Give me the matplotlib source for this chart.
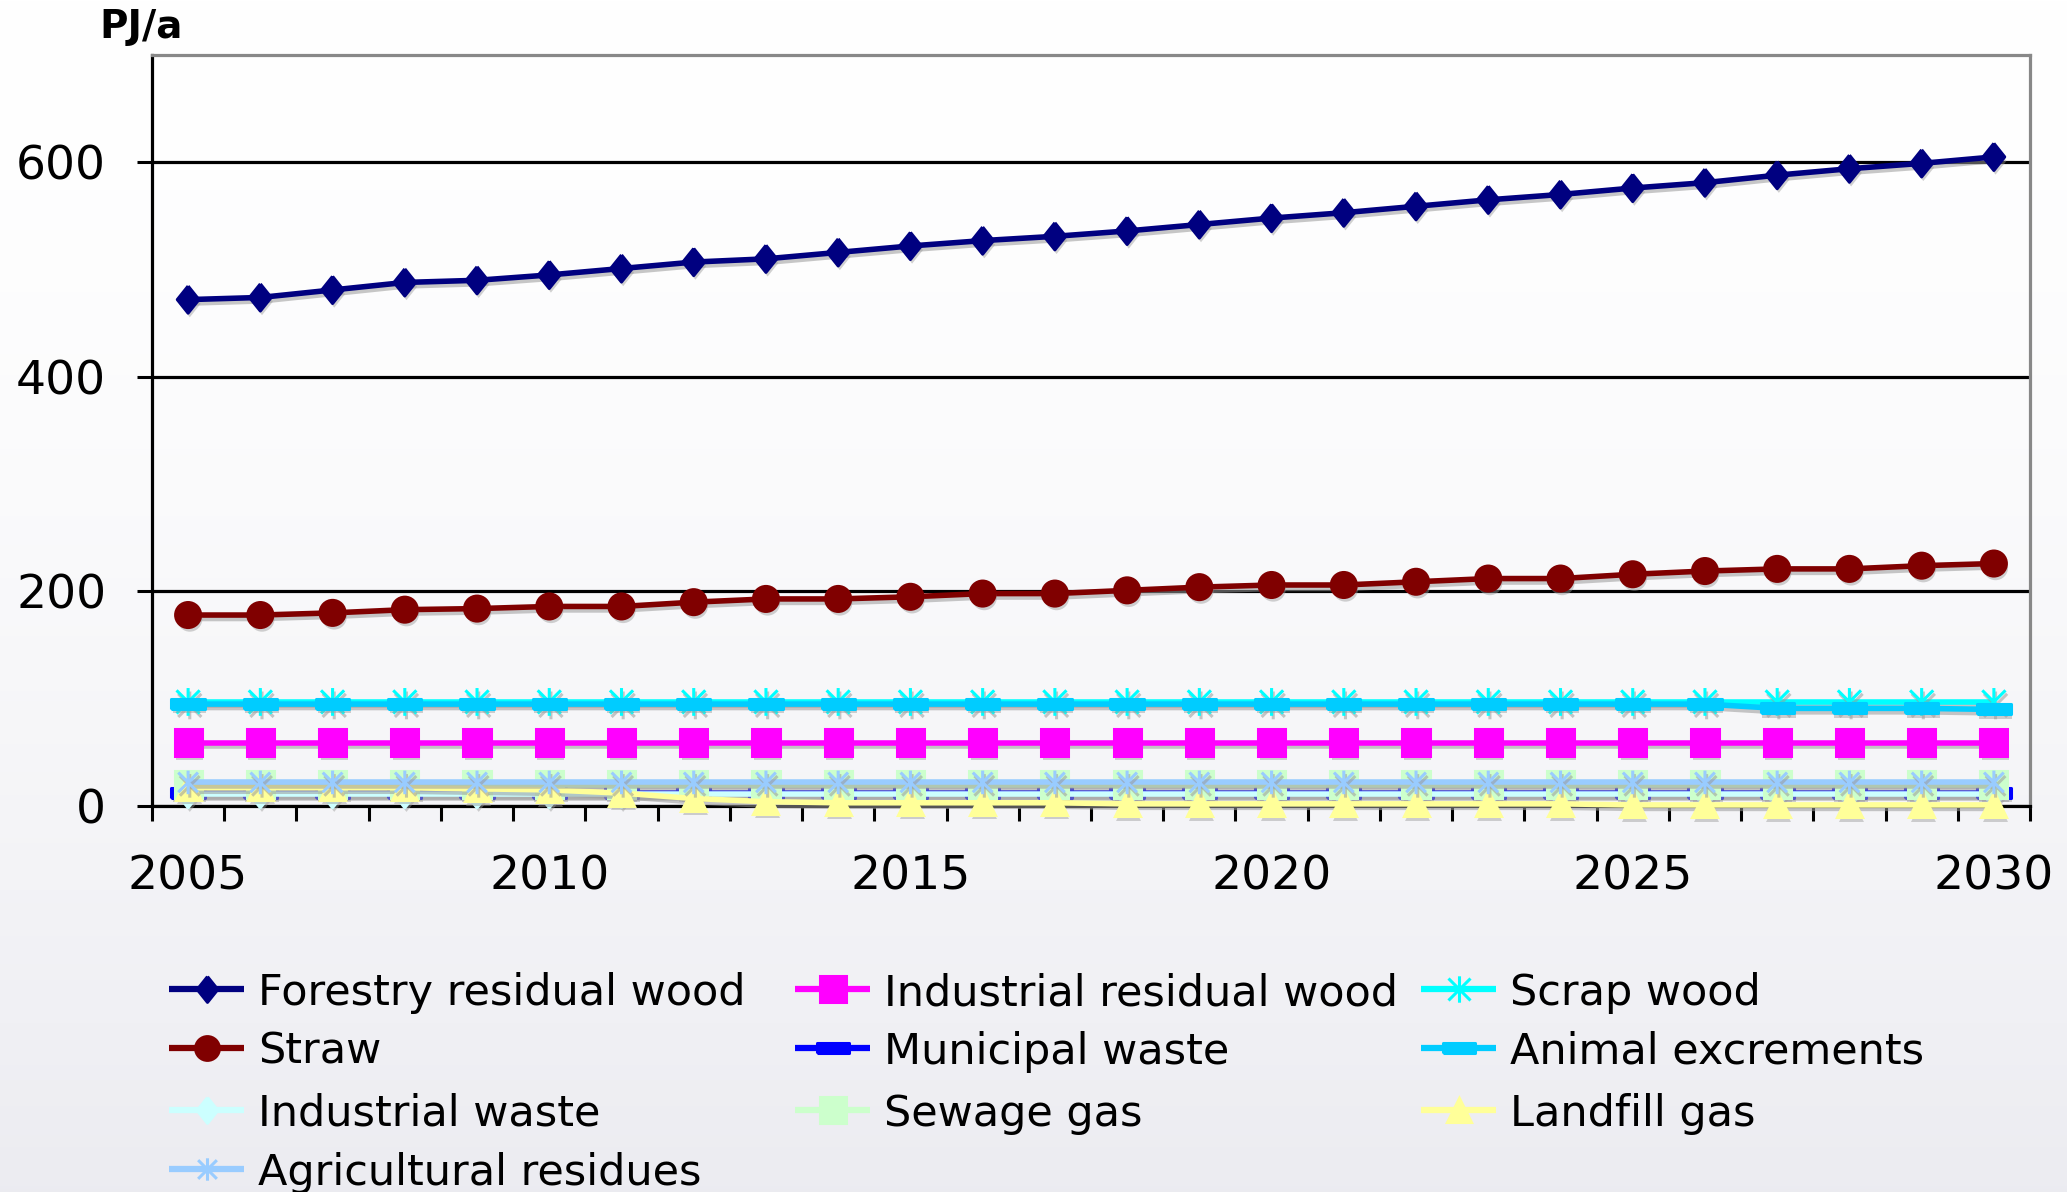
import numpy as np
import matplotlib.pyplot as plt
from matplotlib.path import Path
import matplotlib.patheffects as pe

plt.rcParams['font.family'] = ['DejaVu Sans']

# Data (PJ/a)
years = list(range(2005, 2031))
forestry_wood = [472, 474, 481, 488, 490, 495, 501, 507, 510, 516, 522, 527, 531,
                 536, 542, 548, 553, 559, 565, 570, 576, 581, 588, 594, 599, 605]
industrial_wood = [59, 59, 59, 59, 59, 59, 59, 59, 59, 59, 59, 59, 59,
                   59, 59, 59, 59, 59, 59, 59, 59, 59, 59, 59, 59, 59]
scrap_wood = [97, 97, 97, 97, 97, 97, 97, 97, 97, 97, 97, 97, 97,
              97, 97, 97, 97, 97, 97, 97, 97, 97, 97, 97, 97, 97]
straw = [178, 178, 180, 183, 184, 186, 186, 190, 193, 193, 195, 198, 198,
         201, 204, 206, 206, 209, 212, 212, 216, 219, 221, 221, 224, 226]
municipal_waste = [12, 12, 12, 12, 12, 12, 12, 12, 12, 12, 12, 12, 12,
                   12, 12, 12, 12, 12, 12, 12, 12, 12, 12, 12, 12, 12]
animal_excrements = [95, 95, 95, 95, 95, 95, 95, 95, 95, 95, 95, 95, 95,
                     95, 95, 95, 95, 95, 95, 95, 95, 95, 91, 91, 91, 90]
industrial_waste = [11, 11, 11, 11, 11, 11, 11, 11, 11, 11, 11, 11, 11,
                    11, 11, 11, 11, 11, 11, 11, 11, 11, 11, 11, 11, 11]
sewage_gas = [20, 20, 20, 20, 20, 20, 20, 20, 20, 20, 20, 20, 20,
              20, 20, 20, 20, 20, 20, 20, 20, 20, 20, 20, 20, 20]
landfill_gas = [17, 17, 17, 17, 16, 15, 12, 7, 4, 3, 3, 3, 3,
                2, 2, 2, 2, 2, 2, 2, 1, 1, 1, 1, 1, 1]
agri_residues = [22, 22, 22, 22, 22, 22, 22, 22, 22, 22, 22, 22, 22,
                 22, 22, 22, 22, 22, 22, 22, 22, 22, 22, 22, 22, 22]

labels = ['Forestry residual wood', 'Industrial residual wood', 'Scrap wood',
          'Straw', 'Municipal waste', 'Animal excrements',
          'Industrial waste', 'Sewage gas', 'Landfill gas',
          'Agricultural residues']
values = [forestry_wood, industrial_wood, scrap_wood, straw, municipal_waste,
          animal_excrements, industrial_waste, sewage_gas, landfill_gas,
          agri_residues]
colors = ['#000080', '#FF00FF', '#00FFFF', '#800000', '#0000FF',
          '#00CCFF', '#CCFFFF', '#CCFFCC', '#FFFF99', '#99CCFF']

# Excel-like markers
diamond = Path([(0, 1), (0.8, 0), (0, -1), (-0.8, 0), (0, 1)])
dash = Path([(-1, -0.3), (1, -0.3), (1, 0.3), (-1, 0.3), (-1, -0.3)])
star = Path([(-1, -1), (1, 1), (-1, 1), (1, -1), (0, -1.2), (0, 1.2)],
            [Path.MOVETO, Path.LINETO, Path.MOVETO, Path.LINETO,
             Path.MOVETO, Path.LINETO])
markers = [diamond, 's', star, 'o', dash, dash, diamond, 's', '^', star]
sizes = [19.5, 19.5, 20, 18, 24, 24, 19.5, 19.5, 18, 17]

W, H = 2067, 1192
fig = plt.figure(figsize=(W / 100, H / 100), dpi=100)

# soft grey gradient background
bg = fig.add_axes([0, 0, 1, 1], zorder=-10)
t = np.linspace(0, 1, 400) ** 1.6
top = np.array([1.0, 1.0, 1.0])
bottom = np.array([0.925, 0.925, 0.945])
img = top + t[:, None, None] * (bottom - top)
bg.imshow(img, aspect='auto', extent=[0, 1, 0, 1])
bg.axis('off')

ax = fig.add_axes([152 / W, 1 - 806 / H, (2030 - 152) / W, (806 - 55) / H])
ax.patch.set_alpha(0)

line_fx = [pe.SimpleLineShadow(offset=(1.2, -2.5), shadow_color='#9a9a9a', alpha=0.55),
           pe.Normal()]
mark_fx = [pe.SimplePatchShadow(offset=(1.2, -3), shadow_rgbFace='#9a9a9a', alpha=0.45),
           pe.Normal()]

for i, (vals, col, mk, ms) in enumerate(zip(values, colors, markers, sizes)):
    z = 3 + i * 0.1
    ax.plot(years, vals, color=col, lw=4, solid_capstyle='butt', zorder=z,
            clip_on=False, path_effects=line_fx)
    ax.plot(years, vals, ls='none', marker=mk, ms=ms, color=col, mfc=col,
            mec=col, mew=2.2, zorder=z + 0.05, clip_on=False,
            path_effects=mark_fx if mk is not star else line_fx)

ax.set_xlim(2004.5, 2030.5)
ax.set_ylim(0, 700)
ax.set_yticks([0, 200, 400, 600])
ax.set_xticks(range(2005, 2031, 5))
ax.set_xticks(np.arange(2004.5, 2031, 1), minor=True)
ax.tick_params(axis='x', which='major', length=0, pad=35, labelsize=34)
ax.tick_params(axis='x', which='minor', length=11, width=2.2, direction='out')
ax.tick_params(axis='y', length=11, width=2.2, pad=22, labelsize=34)
ax.grid(axis='y', color='black', lw=2.3)
ax.set_axisbelow(True)
for side in ['left', 'bottom']:
    ax.spines[side].set_linewidth(2.3)
    ax.spines[side].set_color('black')
for side in ['top', 'right']:
    ax.spines[side].set_linewidth(2.3)
    ax.spines[side].set_color('#888888')

fig.text(99 / W, 1 - 27 / H, 'PJ/a', fontsize=28, fontweight='bold',
         ha='left', va='center')

# legend, three columns filled row by row
lax = fig.add_axes([0, 0, 1, 1], zorder=5)
lax.set_xlim(0, W)
lax.set_ylim(H, 0)
lax.axis('off')
col_x = [169, 795, 1421]
row_y = [989, 1048, 1110, 1169]
for i, (lab, col, mk, ms) in enumerate(zip(labels, colors, markers, sizes)):
    x0 = col_x[i % 3]
    y = row_y[i // 3]
    lax.plot([x0, x0 + 37.5, x0 + 75], [y, y, y], color=col, lw=4.5,
             solid_capstyle='butt', marker=mk, markevery=[1], ms=ms * 0.95,
             mfc=col, mec=col, mew=2.2, clip_on=False)
    lax.text(x0 + 89, y + 16, lab, fontsize=31, ha='left', va='baseline',
             clip_on=False)

fig.savefig('out.png', dpi=100)
